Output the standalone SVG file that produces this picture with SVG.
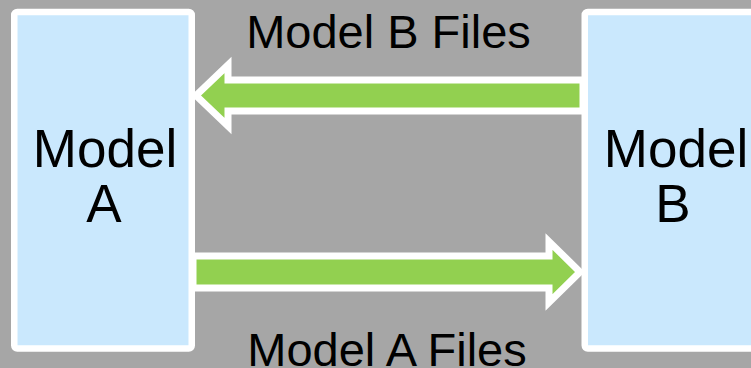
<svg xmlns="http://www.w3.org/2000/svg" width="751" height="368" viewBox="0 0 751 368">
  <style>
    .box { fill: #cae8fd; stroke: #ffffff; stroke-width: 6.5; }
    .arrow { fill: #92d050; stroke: #ffffff; stroke-width: 7; stroke-linejoin: miter; stroke-miterlimit: 10; }
    .lbl { font-family: "Liberation Sans", Arial, sans-serif; fill: #000000; text-anchor: middle; }
    .node { font-size: 53px; }
    .edge { font-size: 47px; }
  </style>
  <rect x="0" y="0" width="751" height="368" fill="#a6a6a6"/>
  <g id="connectors">
    <g id="arrow-b-to-a">
      <polygon class="arrow" points="196,95.5 228,65 228,80 583,80 583,111 228,111 228,126"/>
      <text class="lbl edge" x="388.5" y="47.5">Model B Files</text>
    </g>
    <g id="arrow-a-to-b">
      <polygon class="arrow" points="193,256 549,256 549,241.5 580,272 549,302.5 549,288 193,288"/>
      <text class="lbl edge" x="387" y="366">Model A Files</text>
    </g>
  </g>
  <g id="model-a">
    <rect class="box" x="14.25" y="12" width="177.5" height="336.5" rx="3"/>
    <text class="lbl node" x="105" y="167">Model</text>
    <text class="lbl node" x="104" y="222">A</text>
  </g>
  <g id="model-b">
    <rect class="box" x="584.75" y="12" width="200" height="336.5" rx="3"/>
    <text class="lbl node" x="676" y="167">Model</text>
    <text class="lbl node" x="673" y="222">B</text>
  </g>
</svg>
